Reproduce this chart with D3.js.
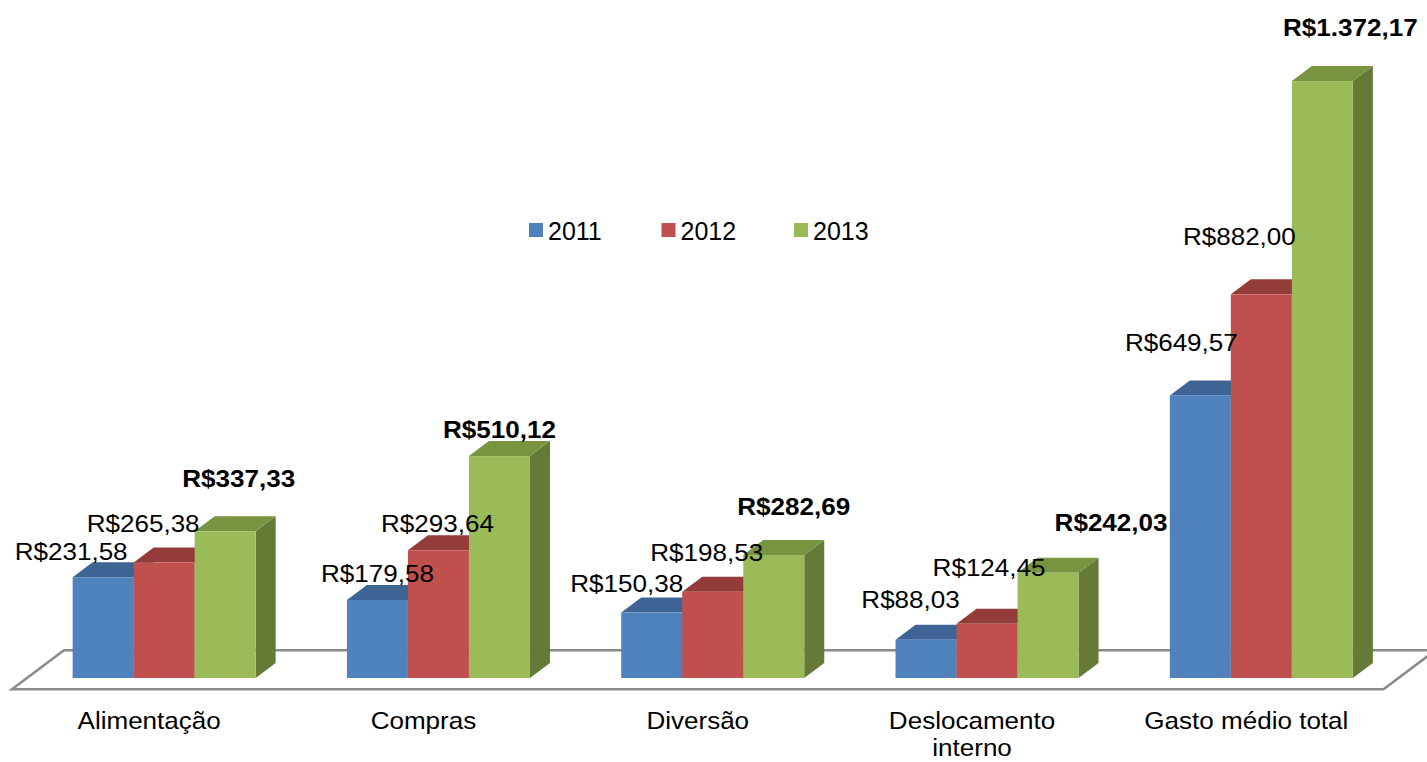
<!DOCTYPE html>
<html>
<head>
<meta charset="utf-8">
<script src="https://cdn.jsdelivr.net/npm/d3@7"></script>
<style>
  html, body { margin: 0; padding: 0; background: #fff; }
  svg { display: block; font-family: "Liberation Sans", Arial, sans-serif; }
</style>
</head>
<body>
<svg id="chart" width="1427" height="762"></svg>
<script>
// ---- data ----
const categories = ["Alimentação", "Compras", "Diversão", "Deslocamento interno", "Gasto médio total"];
const tickLabels = [["Alimentação"], ["Compras"], ["Diversão"], ["Deslocamento", "interno"], ["Gasto médio total"]];
const series = ["2011", "2012", "2013"];
const values2011 = [231.58, 179.58, 150.38, 88.03, 649.57];
const values2012 = [265.38, 293.64, 198.53, 124.45, 882.00];
const values2013 = [337.33, 510.12, 282.69, 242.03, 1372.17];

// ---- layout / style (kept separate from data) ----
const colors = {
  "2011": { front: "#4F81BD", top: "#3D6494", side: "#3A5F8B" },
  "2012": { front: "#C0504D", top: "#933C3A", side: "#8E3A38" },
  "2013": { front: "#9BBB59", top: "#789441", side: "#667A37" }
};
const boldSeries = { "2011": false, "2012": false, "2013": true };
// label nudges [dx, dy] relative to bar front-centre / front-top (as placed in the original)
const labelNudge = {
  "2011": [[-32, -17], [0, -18], [-25, -21], [-15.5, -32], [-19, -44]],
  "2012": [[-21, -31], [-1, -18], [-6, -31], [2, -48], [-22, -49]],
  "2013": [[13.5, -44], [0, -18], [20, -40], [63, -42], [28, -45]]
};
const depth = { dx: 20, dy: -15 };       // bar depth in oblique projection
const floorFront = -0.75, floorBack = 1.85; // floor edges in units of bar depth
const stretch = 1.085;                    // horizontal text stretch of the original

const svg = d3.select("#chart");
const valuesBySeries = { "2011": values2011, "2012": values2012, "2013": values2013 };

const x = d3.scaleBand().domain(categories).range([27, 1398.5]).paddingInner(0.3327).paddingOuter(0.16635);
const xs = d3.scaleBand().domain(series).range([0, x.bandwidth()]).padding(0);
const y = d3.scaleLinear().domain([0, 1400]).range([678, 69]);

const locale = d3.formatLocale({ decimal: ",", thousands: ".", grouping: [3], currency: ["R$", ""] });
const fmt = locale.format("$,.2f");

// ---- floor ----
const x0 = x.range()[0], x1 = x.range()[1], yb = y(0);
const fl = [
  [x0 + floorFront * depth.dx, yb + floorFront * depth.dy],
  [x1 + floorFront * depth.dx, yb + floorFront * depth.dy],
  [x1 + floorBack * depth.dx, yb + floorBack * depth.dy],
  [x0 + floorBack * depth.dx, yb + floorBack * depth.dy]
];
svg.append("path")
  .attr("d", d3.line()(fl) + "Z")
  .attr("fill", "#fff")
  .attr("stroke", "#8A8A8A")
  .attr("stroke-width", 2.5)
  .attr("stroke-linejoin", "miter");

// ---- bars ----
const barsG = svg.append("g");
categories.forEach((c, i) => {
  series.forEach(s => {
    const v = valuesBySeries[s][i];
    const bx = x(c) + xs(s), bw = xs.bandwidth();
    const top = y(v), bot = y(0);
    const col = colors[s];
    const g = barsG.append("g");
    // side
    g.append("path").attr("d", d3.line()([
      [bx + bw, top], [bx + bw + depth.dx, top + depth.dy],
      [bx + bw + depth.dx, bot + depth.dy], [bx + bw, bot]
    ]) + "Z").attr("fill", col.side);
    // top
    g.append("path").attr("d", d3.line()([
      [bx, top], [bx + bw, top], [bx + bw + depth.dx, top + depth.dy], [bx + depth.dx, top + depth.dy]
    ]) + "Z").attr("fill", col.top);
    // front
    g.append("rect").attr("x", bx).attr("y", top).attr("width", bw).attr("height", bot - top)
      .attr("fill", col.front);
  });
});

// ---- value labels ----
const labelsG = svg.append("g");
categories.forEach((c, i) => {
  series.forEach(s => {
    const v = valuesBySeries[s][i];
    const cx = x(c) + xs(s) + xs.bandwidth() / 2;
    const [ndx, ndy] = labelNudge[s][i];
    labelsG.append("text")
      .attr("transform", `translate(${cx + ndx},${y(v) + ndy}) scale(${stretch},1)`)
      .attr("text-anchor", "middle")
      .attr("font-size", 24)
      .attr("font-weight", boldSeries[s] ? "bold" : "normal")
      .attr("fill", "#000")
      .text(fmt(v));
  });
});

// ---- category axis labels ----
const axisG = svg.append("g");
categories.forEach((c, i) => {
  const cx = x(c) + x.bandwidth() / 2 + floorFront * depth.dx;
  const t = axisG.append("text")
    .attr("transform", `translate(${cx},729) scale(${stretch},1)`)
    .attr("text-anchor", "middle")
    .attr("font-size", 24)
    .attr("fill", "#000");
  tickLabels[i].forEach((line, k) => {
    t.append("tspan").attr("x", 0).attr("dy", k === 0 ? 0 : 27).text(line);
  });
});

// ---- legend ----
const legendX = d3.scalePoint().domain(series).range([529, 794]);
const legend = svg.append("g");
series.forEach(s => {
  legend.append("rect").attr("x", legendX(s)).attr("y", 223).attr("width", 14).attr("height", 14)
    .attr("fill", colors[s].front);
  legend.append("text").attr("x", legendX(s) + 19).attr("y", 240)
    .attr("font-size", 25).attr("fill", "#000").text(s);
});
</script>
</body>
</html>
